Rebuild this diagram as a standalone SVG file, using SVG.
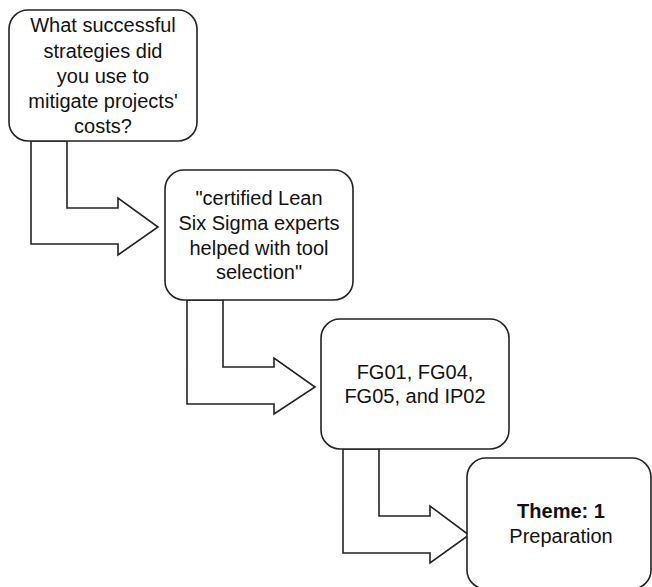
<svg xmlns="http://www.w3.org/2000/svg" width="652" height="587" viewBox="0 0 652 587">
<style>
.box{fill:#fff;stroke:#222;stroke-width:1.6}
.arr{fill:#fff;stroke:#222;stroke-width:1.6;stroke-linejoin:miter}
text{font-family:"Liberation Sans",Arial,sans-serif;font-size:20px;fill:#111;text-anchor:middle}
.b{font-weight:bold}
</style>
<rect width="652" height="587" fill="#fff"/>
<g id="connectors">
<polygon class="arr" points="31,141 31,244 118,244 118,255 158,227 118,198 118,208 67,208 67,141"/>
<polygon class="arr" points="187,300 187,404 274,404 274,414 315,387 274,358 274,367 223,367 223,300"/>
<polygon class="arr" points="343,449 343,553 430,553 430,563 469,535 430,506 430,516 379,516 379,449"/>
</g>
<g id="node1">
<rect class="box" x="9" y="10" width="188" height="131" rx="19"/>
<text x="103" y="32">What successful</text>
<text x="103" y="57.5">strategies did</text>
<text x="103" y="83">you use to</text>
<text x="103" y="108">mitigate projects'</text>
<text x="103" y="133">costs?</text>
</g>
<g id="node2">
<rect class="box" x="165" y="170" width="188" height="130" rx="19"/>
<text x="259" y="205">"certified Lean</text>
<text x="259" y="230">Six Sigma experts</text>
<text x="259" y="255">helped with tool</text>
<text x="259" y="279">selection"</text>
</g>
<g id="node3">
<rect class="box" x="321" y="319" width="188" height="130" rx="19"/>
<text x="415" y="379">FG01, FG04,</text>
<text x="415" y="403">FG05, and IP02</text>
</g>
<g id="node4">
<rect class="box" x="467" y="458" width="184" height="131" rx="19"/>
<text x="561" y="518" class="b">Theme: 1</text>
<text x="561" y="543">Preparation</text>
</g>
</svg>
